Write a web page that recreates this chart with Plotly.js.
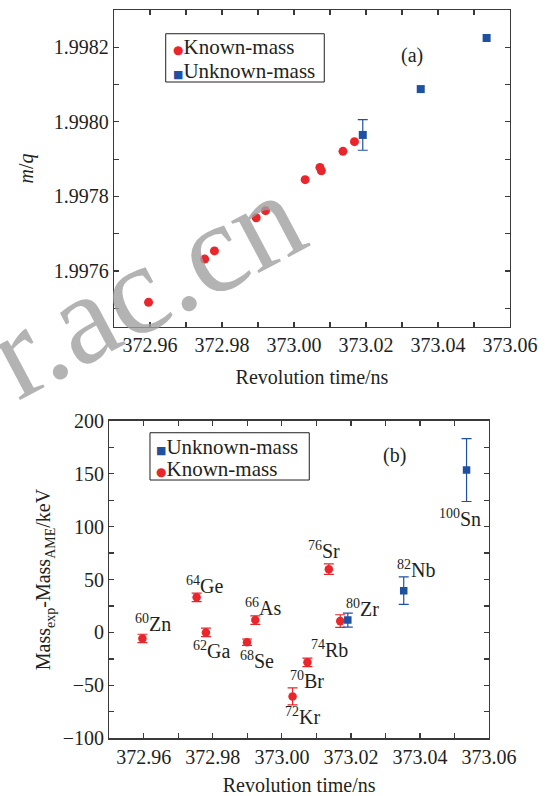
<!DOCTYPE html>
<html><head><meta charset="utf-8">
<script src="https://cdn.plot.ly/plotly-3.0.1.min.js"></script>
<style>html,body{margin:0;padding:0;background:#fff}#chart{width:545px;height:796px}</style>
</head><body><div id="chart"></div><script>
// ---------- Panel (a): m/q vs revolution time ----------
const knownTimeA   = [372.9596, 372.9752, 372.9779, 372.9895, 372.9921, 373.0031, 373.0072, 373.0076, 373.0136, 373.0168];
const knownMQ      = [1.997516, 1.997632, 1.997654, 1.997743, 1.997762, 1.997845, 1.997878, 1.997869, 1.997921, 1.997947];
const unknownTimeA = [373.0191, 373.0352, 373.0535];
const unknownMQ    = [1.997965, 1.998088, 1.998225];
const unknownMQErr = [0.000041, NaN, NaN];   // only the first point carries an error bar

// ---------- Panel (b): Mass_exp - Mass_AME ----------
const knownMassNum   = [60, 64, 62, 68, 66, 72, 70, 76, 74];
const knownElement   = ['Zn', 'Ge', 'Ga', 'Se', 'As', 'Kr', 'Br', 'Sr', 'Rb'];
const knownTimeB     = [372.9596, 372.9753, 372.9780, 372.9899, 372.9923, 373.0031, 373.0074, 373.0136, 373.0169];
const knownDev       = [-5.7, 33.2, 0.0, -9.2, 11.7, -60.4, -28.2, 59.8, 10.7];
const knownDevErr    = [4, 4, 4, 3, 4, 8, 4, 5, 6];

const unknownMassNum = [80, 82, 100];
const unknownElement = ['Zr', 'Nb', 'Sn'];
const unknownTimeB   = [373.0191, 373.0353, 373.0535];
const unknownDev     = [11.7, 39.5, 153.4];
const unknownDevErr  = [6.6, 13, 29.7];

const seriesNames = ['Known-mass', 'Unknown-mass'];

// label pixel offsets (style only)
const knownLabelShift   = [[11,15],[8,12],[6,-18],[10,-18],[8,13],[10,-20],[0,-18],[-5,19],[-11,-28]];
const unknownLabelShift = [[15,12],[12,22],[-7,-48]];

const RED = '#e8262b', BLUE = '#1f51a3', INK = '#231f20', AX = '#3a3a3a';
const FAM = 'Liberation Serif';

const traces = [
  {x: knownTimeA, y: knownMQ, type: 'scatter', mode: 'markers', name: seriesNames[0],
   xaxis: 'x', yaxis: 'y', showlegend: false,
   marker: {symbol: 'circle', size: 9, color: RED}},
  {x: unknownTimeA, y: unknownMQ, type: 'scatter', mode: 'markers', name: seriesNames[1],
   xaxis: 'x', yaxis: 'y', showlegend: false,
   marker: {symbol: 'square', size: 8, color: BLUE},
   error_y: {type: 'data', array: unknownMQErr, visible: true, color: BLUE, thickness: 1.2, width: 5}},
  {x: knownTimeB, y: knownDev, type: 'scatter', mode: 'markers', name: seriesNames[0],
   xaxis: 'x2', yaxis: 'y2', showlegend: false,
   marker: {symbol: 'circle', size: 8.5, color: RED},
   error_y: {type: 'data', array: knownDevErr, visible: true, color: RED, thickness: 1.2, width: 5}},
  {x: unknownTimeB, y: unknownDev, type: 'scatter', mode: 'markers', name: seriesNames[1],
   xaxis: 'x2', yaxis: 'y2', showlegend: false,
   marker: {symbol: 'square', size: 7.5, color: BLUE},
   error_y: {type: 'data', array: unknownDevErr, visible: true, color: BLUE, thickness: 1.2, width: 5}}
];

const annotations = [];
const shapes = [];
function addLabels(massNums, elements, xs, ys, shifts) {
  for (let i = 0; i < massNums.length; i++) {
    annotations.push({
      x: xs[i], y: ys[i], xref: 'x2', yref: 'y2', showarrow: false,
      xanchor: 'center', yanchor: 'middle',
      text: '<sup>' + massNums[i] + '</sup>' + elements[i],
      xshift: shifts[i][0], yshift: shifts[i][1],
      font: {family: FAM, size: 20, color: INK}
    });
  }
}
addLabels(knownMassNum, knownElement, knownTimeB, knownDev, knownLabelShift);
addLabels(unknownMassNum, unknownElement, unknownTimeB, unknownDev, unknownLabelShift);

annotations.push({xref: 'x domain', yref: 'y domain', x: 0.752, y: 0.858, showarrow: false,
  xanchor: 'center', yanchor: 'middle',
  text: '(a)', font: {family: FAM, size: 20, color: INK}});
annotations.push({xref: 'x2 domain', yref: 'y2 domain', x: 0.752, y: 0.892, showarrow: false,
  xanchor: 'center', yanchor: 'middle',
  text: '(b)', font: {family: FAM, size: 20, color: INK}});

// legends (boxed, drawn per panel)
const GLYPH = {circle: '●', square: '■'};
function legendBox(xr, yr, box, rows) {
  shapes.push({type: 'rect', xref: xr + ' domain', yref: yr + ' domain',
    x0: box[0], x1: box[1], y0: box[2], y1: box[3],
    line: {color: INK, width: 1}, fillcolor: '#fff', layer: 'above'});
  rows.forEach(r => annotations.push({xref: xr + ' domain', yref: yr + ' domain',
    x: r.x, y: r.y, xanchor: 'left', yanchor: 'middle', showarrow: false,
    height: 21, valign: 'middle',
    text: '<span style="font-family:DejaVu Sans;font-size:' + r.gs + 'px;color:' + r.color + '">' +
          GLYPH[r.symbol] + '</span>' + r.name,
    font: {family: FAM, size: 21, color: INK}}));
}
legendBox('x', 'y', [0.1306, 0.531, 0.7729, 0.9252], [
  {x: 0.1440, y: 0.8842, symbol: 'circle', color: RED, gs: 12, name: seriesNames[0]},
  {x: 0.1440, y: 0.8107, symbol: 'square', color: BLUE, gs: 11, name: seriesNames[1]}]);
legendBox('x2', 'y2', [0.1072, 0.5267, 0.8133, 0.9622], [
  {x: 0.1180, y: 0.9181, symbol: 'square', color: BLUE, gs: 11, name: seriesNames[1]},
  {x: 0.1180, y: 0.8501, symbol: 'circle', color: RED, gs: 12, name: seriesNames[0]}]);

// watermark
annotations.push({xref: 'paper', yref: 'paper', x: 0.108, y: 0.6216, showarrow: false,
  xanchor: 'center', yanchor: 'middle',
  text: 'r.ac.cn', textangle: -28,
  font: {family: FAM, size: 128, color: 'rgba(160,160,160,0.8)'}});

const axBase = {showline: true, linecolor: AX, linewidth: 1.3, mirror: 'ticks',
  ticks: 'inside', ticklen: 5, tickwidth: 1.2, tickcolor: AX,
  showgrid: false, zeroline: false, automargin: false,
  tickfont: {family: FAM, size: 20, color: INK}};
function ax(extra) { return Object.assign(JSON.parse(JSON.stringify(axBase)), extra); }
const minorX = {dtick: 0.01, ticks: 'inside', ticklen: 5, tickwidth: 1.2, tickcolor: AX};

const layout = {
  width: 545, height: 796,
  margin: {l: 100, r: 30, t: 5, b: 51},
  paper_bgcolor: '#fff', plot_bgcolor: '#fff',
  font: {family: FAM, size: 20, color: INK},
  showlegend: false,
  xaxis: ax({domain: [0.0337, 0.988], anchor: 'y', range: [372.95, 373.06],
    tick0: 372.96, dtick: 0.02, tickformat: '.2f', minor: minorX,
    title: {text: 'Revolution time/ns', standoff: 14, font: {family: FAM, size: 20, color: INK}}}),
  yaxis: ax({domain: [0.5649, 0.9932], anchor: 'x', range: [1.99745, 1.9983],
    tick0: 1.9976, dtick: 0.0002, tickformat: '.4f',
    minor: {dtick: 0.0001, ticks: 'inside', ticklen: 5, tickwidth: 1.2, tickcolor: AX},
    title: {text: '<i>m</i>/<i>q</i>', standoff: 14, font: {family: FAM, size: 20, color: INK}}}),
  xaxis2: ax({domain: [0.0224, 0.9373], anchor: 'y2', range: [372.95, 373.06],
    tick0: 372.96, dtick: 0.02, tickformat: '.2f', minor: minorX,
    title: {text: 'Revolution time/ns', font: {family: FAM, size: 20, color: INK}}}),
  yaxis2: ax({domain: [0.00905, 0.4382], anchor: 'x2', range: [-100, 200],
    tick0: 0, dtick: 50,
    minor: {dtick: 25, ticks: 'inside', ticklen: 5, tickwidth: 1.2, tickcolor: AX},
    title: {text: 'Mass<sub>exp</sub>-Mass<sub>AME</sub>/keV', standoff: 6, font: {family: FAM, size: 20, color: INK}}}),
  shapes: shapes,
  annotations: annotations
};

Plotly.newPlot('chart', traces, layout, {displayModeBar: false, staticPlot: true});
</script></body></html>
